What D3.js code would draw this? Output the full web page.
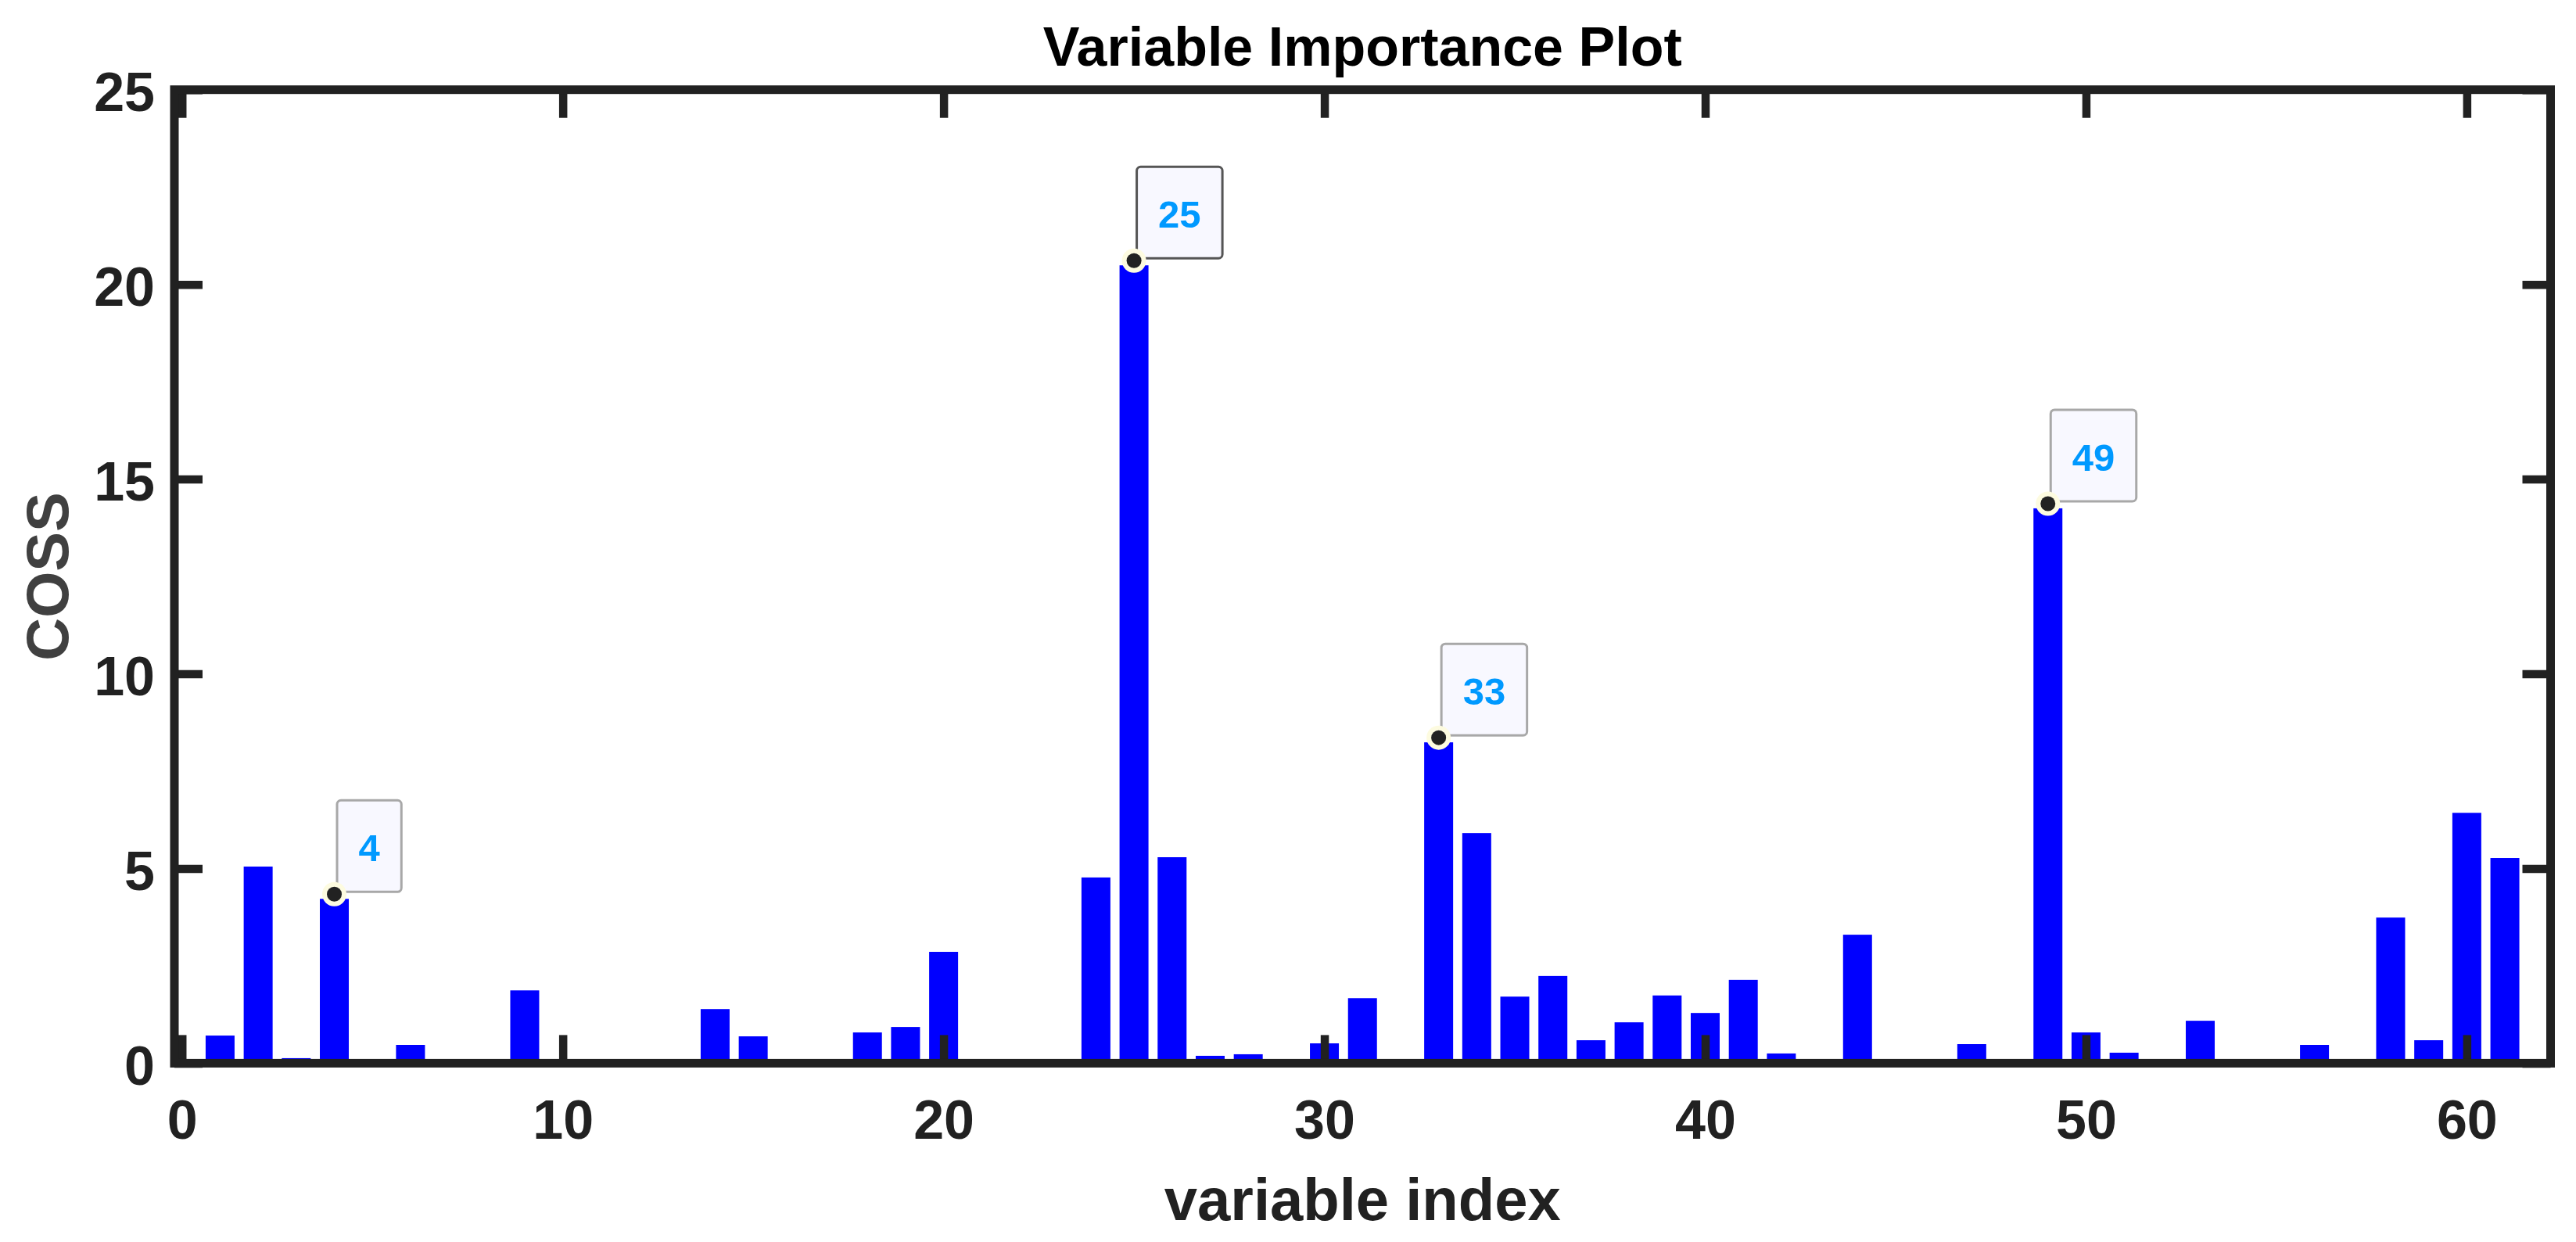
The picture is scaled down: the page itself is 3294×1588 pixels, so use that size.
<!DOCTYPE html>
<html>
<head>
<meta charset="utf-8">
<script src="https://cdn.jsdelivr.net/npm/d3@7"></script>
<style>
  html, body { margin: 0; padding: 0; background: #fff; }
  svg { display: block; }
  text { font-family: "Liberation Sans", Arial, Helvetica, sans-serif; font-weight: bold; }
</style>
</head>
<body>
<svg id="chart" width="3294" height="1588"></svg>
<script>
// ---------------- data ----------------
const variableIndex = [1,2,3,4,5,6,7,8,9,10,11,12,13,14,15,16,17,18,19,20,
  21,22,23,24,25,26,27,28,29,30,31,32,33,34,35,36,37,38,39,40,
  41,42,43,44,45,46,47,48,49,50,51,52,53,54,55,56,57,58,59,60,61];
const coss = [0.71,5.05,0.13,4.22,0,0.47,0,0,1.87,0,0,0,0,1.39,0.69,0,0,0.79,0.93,2.86,
  0,0,0,4.77,20.49,5.29,0.19,0.23,0,0.51,1.67,0,8.24,5.91,1.71,2.24,0.59,1.05,1.74,1.29,
  2.14,0.25,0,3.30,0,0,0.49,0,14.25,0.79,0.27,0,1.09,0,0,0.47,0,3.74,0.59,6.43,5.27];
const dataTips = [4, 25, 33, 49];
const activeTip = 25;
const xTicks = [0, 10, 20, 30, 40, 50, 60];
const yTicks = [0, 5, 10, 15, 20, 25];
const xLimits = [-0.2, 62.2];
const yLimits = [0, 25];
const titleText = "Variable Importance Plot";
const xLabelText = "variable index";
const yLabelText = "COSS";

// ---------------- layout ----------------
const svg = d3.select("#chart");
const plotL = 223, plotR = 3261.5, plotT = 114.7, plotB = 1359.4;
const x = d3.scaleLinear().domain(xLimits).range([plotL, plotR]);
const y = d3.scaleLinear().domain(yLimits).range([plotB, plotT]);
const ink = "#212121";
const barW = x(0.76) - x(0);

svg.append("rect").attr("width", 3294).attr("height", 1588).attr("fill", "#fff");

// bars
const bars = variableIndex.map((v, i) => ({ idx: v, val: coss[i] }));
svg.append("g").selectAll("rect").data(bars.filter(d => d.val > 0)).join("rect")
  .attr("x", d => x(d.idx) - barW / 2)
  .attr("width", barW)
  .attr("y", d => y(d.val))
  .attr("height", d => y(0) - y(d.val))
  .attr("fill", "#0000ff");

// axes (ticks pointing inward, MATLAB box style)
const tickLen = 36;
function styleAxis(g, showLabels) {
  g.select(".domain").remove();
  g.selectAll(".tick line").attr("stroke", ink).attr("stroke-width", 10.5);
  if (!showLabels) g.selectAll(".tick text").remove();
}
const gx = svg.append("g").attr("transform", `translate(0,${y(0)})`)
  .call(d3.axisBottom(x).tickValues(xTicks).tickSizeInner(-tickLen).tickSizeOuter(0).tickFormat(d3.format("d")));
styleAxis(gx, true);
gx.selectAll(".tick text").attr("y", 1456 - y(0)).attr("dy", null)
  .attr("fill", ink).attr("font-size", 70).attr("font-weight", "bold")
  .attr("font-family", '"Liberation Sans", Arial, sans-serif');

const gxt = svg.append("g").attr("transform", `translate(0,${y(yLimits[1])})`)
  .call(d3.axisTop(x).tickValues(xTicks).tickSizeInner(-tickLen).tickSizeOuter(0));
styleAxis(gxt, false);

const gy = svg.append("g").attr("transform", `translate(${x(xLimits[0])},0)`)
  .call(d3.axisLeft(y).tickValues(yTicks).tickSizeInner(-tickLen).tickSizeOuter(0).tickFormat(d3.format("d")));
styleAxis(gy, true);
gy.selectAll(".tick text").attr("x", 198 - x(xLimits[0])).attr("dy", null).attr("y", 27)
  .attr("fill", ink).attr("font-size", 70).attr("font-weight", "bold").attr("text-anchor", "end")
  .attr("font-family", '"Liberation Sans", Arial, sans-serif');

const gyr = svg.append("g").attr("transform", `translate(${x(xLimits[1])},0)`)
  .call(d3.axisRight(y).tickValues(yTicks).tickSizeInner(-tickLen).tickSizeOuter(0));
styleAxis(gyr, false);

// frame
svg.append("rect")
  .attr("x", x(xLimits[0])).attr("y", y(yLimits[1]))
  .attr("width", x(xLimits[1]) - x(xLimits[0]))
  .attr("height", y(yLimits[0]) - y(yLimits[1]))
  .attr("fill", "none").attr("stroke", ink).attr("stroke-width", 11);

// title and labels
svg.append("text").attr("x", (plotL + plotR) / 2).attr("y", 84)
  .attr("text-anchor", "middle").attr("font-size", 70).attr("fill", "#000").text(titleText);
svg.append("text").attr("x", (plotL + plotR) / 2).attr("y", 1560)
  .attr("text-anchor", "middle").attr("font-size", 76).attr("fill", ink).text(xLabelText);
svg.append("text").attr("transform", `translate(87,${(plotT + plotB) / 2}) rotate(-90)`)
  .attr("text-anchor", "middle").attr("font-size", 76).attr("fill", "#404040").text(yLabelText);

// data tips
const markerLift = 6;
dataTips.forEach(idx => {
  const val = coss[variableIndex.indexOf(idx)];
  const mx = x(idx), my = y(val) - markerLift;
  const g = svg.append("g");
  const boxH = 117, pad = 27.5;
  const box = g.append("rect");
  const t = g.append("text").attr("font-size", 49).attr("fill", "#0099ff")
    .attr("text-anchor", "middle").text(String(idx));
  const tw = t.node().getComputedTextLength();
  const bw = tw + 2 * pad;
  const bx = mx + 3.5, by = my - 3 - boxH;
  box.attr("x", bx).attr("y", by).attr("width", bw).attr("height", boxH)
    .attr("rx", 5).attr("ry", 5)
    .attr("fill", "#f8f8ff")
    .attr("stroke", idx === activeTip ? "#555555" : "#a8a8a8")
    .attr("stroke-width", 3);
  t.attr("x", bx + bw / 2).attr("y", by + 78);
  g.append("circle").attr("cx", mx).attr("cy", my).attr("r", 15.5).attr("fill", "#fdfbe0");
  g.append("circle").attr("cx", mx).attr("cy", my).attr("r", 9.5).attr("fill", "#222222");
});
</script>
</body>
</html>
